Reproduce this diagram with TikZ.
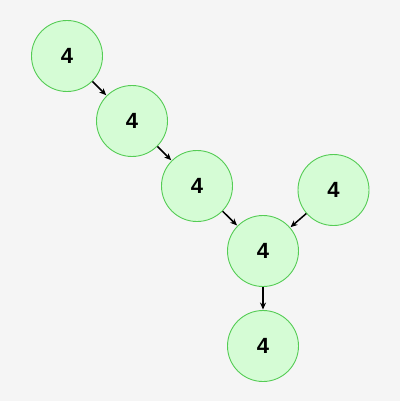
\documentclass[tikz,border=0pt]{standalone}
\usepackage{fontspec}
\setmainfont{Liberation Sans}
\usetikzlibrary{arrows.meta}
\definecolor{bg}{HTML}{F5F5F5}
\definecolor{nfill}{HTML}{D5FCD5}
\definecolor{nline}{HTML}{55CC55}
\tikzset{
  vnode/.style={circle, draw=nline, fill=nfill, line width=0.9pt, minimum size=71pt, inner sep=0pt, font=\bfseries\fontsize{22}{26}\selectfont},
  edge/.style={-{Stealth[length=7pt,width=6pt]}, line width=1.5pt, black, shorten >=0.5pt}
}
\begin{document}
\begin{tikzpicture}[x=1pt,y=-1pt]
\fill[bg] (0,0) rectangle (400,401);
\useasboundingbox (0,0) rectangle (400,401);
\node[vnode] (a) at (67,56) {4};
\node[vnode] (b) at (132,121) {4};
\node[vnode] (c) at (197,186) {4};
\node[vnode] (d) at (333.5,190) {4};
\node[vnode] (e) at (263,251) {4};
\node[vnode] (f) at (263,346) {4};
\draw[edge] (a) -- (b);
\draw[edge] (b) -- (c);
\draw[edge] (c) -- (e);
\draw[edge] (d) -- (e);
\draw[edge] (e) -- (f);
\end{tikzpicture}
\end{document}
